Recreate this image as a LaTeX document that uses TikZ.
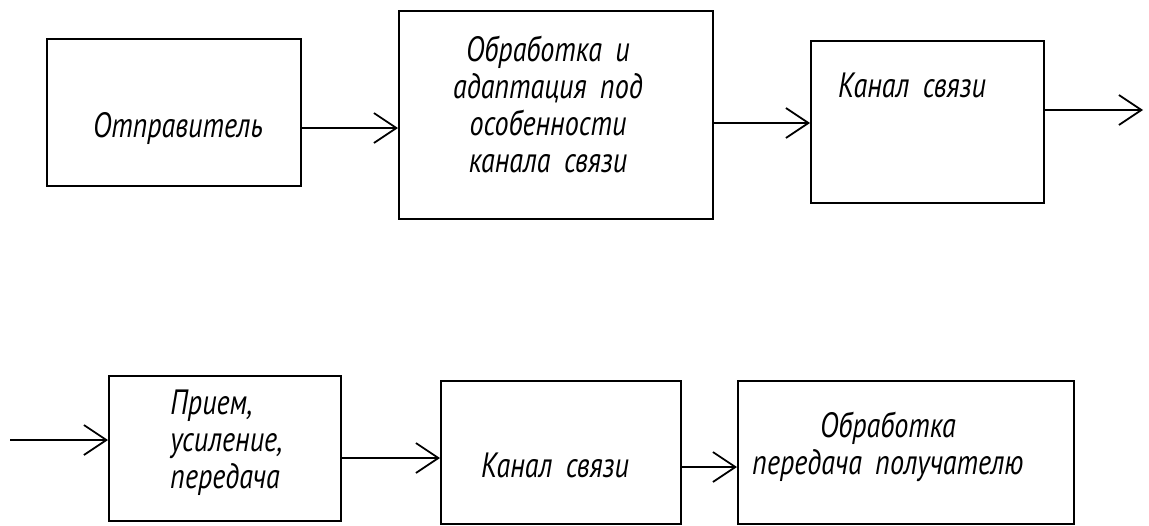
\documentclass[tikz,border=0pt]{standalone}
\usepackage{fontspec}
\setmainfont{PT Sans}[FakeStretch=0.8,WordSpace=1.8]
\usetikzlibrary{arrows.meta}

\begin{document}
\begin{tikzpicture}
  [x=0.02cm,y=-0.02cm,
   box/.style={draw,line width=1pt,rectangle,anchor=north west,inner sep=0pt},
   txt/.style={font=\itshape\fontsize{20}{21}\selectfont,inner sep=0pt,align=center},
   arr/.style={line width=1pt,-{Straight Barb[length=0.45cm,width=0.6cm,line width=1pt]}}]
  \useasboundingbox (0,0) rectangle (1149,525);

  % first row
  \node[box,minimum width=254*0.02cm,minimum height=147*0.02cm] (b1) at (46,38)  {};
  \node[box,minimum width=314*0.02cm,minimum height=208*0.02cm] (b2) at (398,10) {};
  \node[box,minimum width=233*0.02cm,minimum height=162*0.02cm] (b3) at (810,40) {};
  \node[txt] (t1) at (178,128) {Отправитель};
  \node[txt,anchor=north] (t2) at (548,36) {Обработка и\\адаптация под\\особенности\\канала связи};
  \node[txt] (t3) at (912,85) {Канал связи};
  \coordinate (out) at (1143,110);

  % second row
  \coordinate (in) at (10,440);
  \node[box,minimum width=232*0.02cm,minimum height=145*0.02cm] (b4) at (108,375) {};
  \node[box,minimum width=240*0.02cm,minimum height=143*0.02cm] (b5) at (440,380) {};
  \node[box,minimum width=336*0.02cm,minimum height=143*0.02cm] (b6) at (737,380) {};
  \node[txt,align=left,anchor=north west] (t4) at (170,390) {Прием,\\усиление,\\передача};
  \node[txt] (t5) at (555,465) {Канал связи};
  \node[txt,anchor=north] (t6) at (888,412) {Обработка\\передача получателю};

  \draw[arr] (b1.east |- 0,128) -- (b2.west |- 0,128);
  \draw[arr] (b2.east |- 0,123) -- (b3.west |- 0,123);
  \draw[arr] (b3.east |- out) -- (out);
  \draw[arr] (in) -- (b4.west |- in);
  \draw[arr] (b4.east |- 0,458) -- (b5.west |- 0,458);
  \draw[arr] (b5.east |- 0,467) -- (b6.west |- 0,467);
\end{tikzpicture}
\end{document}
